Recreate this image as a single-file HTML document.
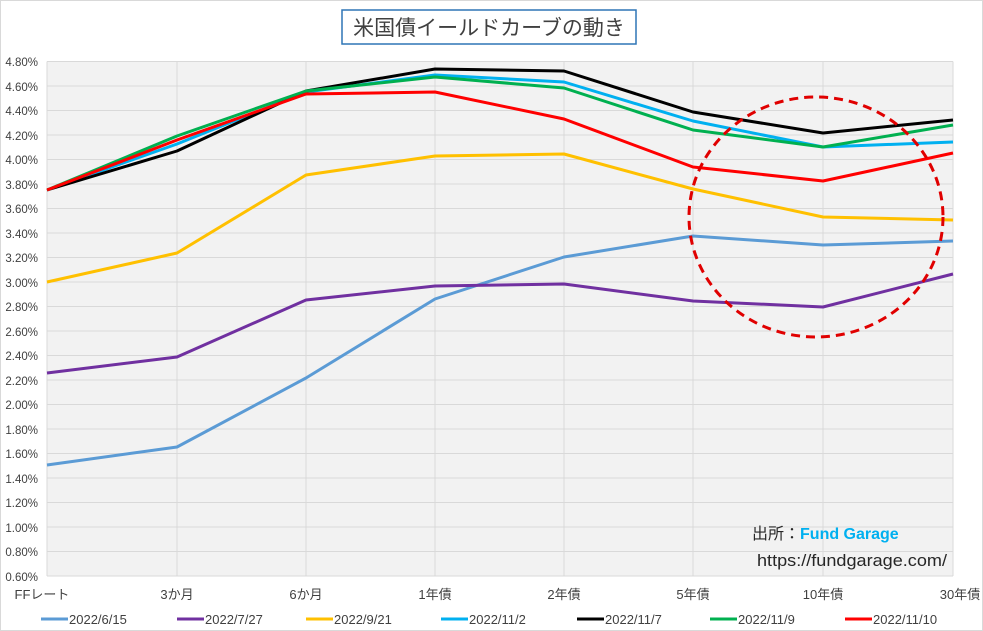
<!DOCTYPE html>
<html><head><meta charset="utf-8"><style>
html,body{margin:0;padding:0;background:#fff;}
svg{display:block;font-family:"Liberation Sans","Noto Sans CJK JP",sans-serif;}
</style></head><body>
<svg width="983" height="631" viewBox="0 0 983 631" xmlns="http://www.w3.org/2000/svg">
<rect x="0.5" y="0.5" width="982" height="630" fill="#fff" stroke="#d9d9d9"/>
<rect x="342" y="10" width="294" height="34" fill="#fff" stroke="#2e75b6" stroke-width="1.5"/>
<text x="489" y="35" font-size="21" fill="#404040" text-anchor="middle">米国債イールドカーブの動き</text>
<rect x="47" y="61.5" width="906" height="514.5" fill="#f2f2f2"/>
<g stroke="#d9d9d9" stroke-width="1">
<line x1="47" x2="953" y1="61.5" y2="61.5"/><line x1="47" x2="953" y1="86" y2="86"/><line x1="47" x2="953" y1="110.5" y2="110.5"/><line x1="47" x2="953" y1="135" y2="135"/><line x1="47" x2="953" y1="159.5" y2="159.5"/><line x1="47" x2="953" y1="184" y2="184"/><line x1="47" x2="953" y1="208.5" y2="208.5"/><line x1="47" x2="953" y1="233" y2="233"/><line x1="47" x2="953" y1="257.5" y2="257.5"/><line x1="47" x2="953" y1="282" y2="282"/><line x1="47" x2="953" y1="306.5" y2="306.5"/><line x1="47" x2="953" y1="331" y2="331"/><line x1="47" x2="953" y1="355.5" y2="355.5"/><line x1="47" x2="953" y1="380" y2="380"/><line x1="47" x2="953" y1="404.5" y2="404.5"/><line x1="47" x2="953" y1="429" y2="429"/><line x1="47" x2="953" y1="453.5" y2="453.5"/><line x1="47" x2="953" y1="478" y2="478"/><line x1="47" x2="953" y1="502.5" y2="502.5"/><line x1="47" x2="953" y1="527" y2="527"/><line x1="47" x2="953" y1="551.5" y2="551.5"/><line x1="47" x2="953" y1="576" y2="576"/>
<line x1="47" x2="47" y1="61.5" y2="576"/><line x1="177" x2="177" y1="61.5" y2="576"/><line x1="306" x2="306" y1="61.5" y2="576"/><line x1="435" x2="435" y1="61.5" y2="576"/><line x1="564" x2="564" y1="61.5" y2="576"/><line x1="693" x2="693" y1="61.5" y2="576"/><line x1="823" x2="823" y1="61.5" y2="576"/><line x1="953" x2="953" y1="61.5" y2="576"/>
</g>
<g font-size="11.5" fill="#404040" text-anchor="end">
<text x="38" y="66">4.80%</text><text x="38" y="91">4.60%</text><text x="38" y="115">4.40%</text><text x="38" y="140">4.20%</text><text x="38" y="164">4.00%</text><text x="38" y="189">3.80%</text><text x="38" y="213">3.60%</text><text x="38" y="238">3.40%</text><text x="38" y="262">3.20%</text><text x="38" y="287">3.00%</text><text x="38" y="311">2.80%</text><text x="38" y="336">2.60%</text><text x="38" y="360">2.40%</text><text x="38" y="385">2.20%</text><text x="38" y="409">2.00%</text><text x="38" y="434">1.80%</text><text x="38" y="458">1.60%</text><text x="38" y="483">1.40%</text><text x="38" y="507">1.20%</text><text x="38" y="532">1.00%</text><text x="38" y="556">0.80%</text><text x="38" y="581">0.60%</text>
</g>
<g font-size="13" fill="#404040" text-anchor="middle">
<text x="42" y="599">FFレート</text><text x="177" y="599">3か月</text><text x="306" y="599">6か月</text><text x="435" y="599">1年債</text><text x="564" y="599">2年債</text><text x="693" y="599">5年債</text><text x="823" y="599">10年債</text><text x="960" y="599">30年債</text>
</g>
<g fill="none" stroke-width="3" stroke-linejoin="round">
<polyline stroke="#5b9bd5" points="47,465 177,447 306,378 435,299 564,257 693,236 823,245 953,241"/>
<polyline stroke="#7030a0" points="47,373 177,357 306,300 435,286 564,284 693,301 823,307 953,274"/>
<polyline stroke="#ffc000" points="47,282 177,253 306,175 435,156 564,154 693,189 823,217 953,220"/>
<polyline stroke="#00b0f0" points="47,190 177,144 306,92 435,75 564,82 693,121 823,147 953,142"/>
<polyline stroke="#000000" points="47,190 177,151 306,91 435,69 564,71 693,112 823,133 953,120"/>
<polyline stroke="#00b050" points="47,190 177,136 306,91 435,77 564,88 693,130 823,147 953,125"/>
<polyline stroke="#ff0000" points="47,190 177,140 306,94 435,92 564,119 693,167 823,181 953,153"/>
</g>
<ellipse cx="816" cy="217" rx="127" ry="120" fill="none" stroke="#e00000" stroke-width="3" stroke-dasharray="9,6"/>
<text x="752" y="539" font-size="16" fill="#262626">出所：<tspan fill="#00b0f0" font-weight="bold">Fund Garage</tspan></text>
<text x="757" y="566" font-size="17" fill="#262626" textLength="190" lengthAdjust="spacingAndGlyphs">https://fundgarage.com/</text>
<g font-size="13" fill="#404040">
<line x1="41" x2="68" y1="619" y2="619" stroke="#5b9bd5" stroke-width="3"/><text x="69" y="624">2022/6/15</text>
<line x1="177" x2="204" y1="619" y2="619" stroke="#7030a0" stroke-width="3"/><text x="205" y="624">2022/7/27</text>
<line x1="306" x2="333" y1="619" y2="619" stroke="#ffc000" stroke-width="3"/><text x="334" y="624">2022/9/21</text>
<line x1="441" x2="468" y1="619" y2="619" stroke="#00b0f0" stroke-width="3"/><text x="469" y="624">2022/11/2</text>
<line x1="577" x2="604" y1="619" y2="619" stroke="#000" stroke-width="3"/><text x="605" y="624">2022/11/7</text>
<line x1="710" x2="737" y1="619" y2="619" stroke="#00b050" stroke-width="3"/><text x="738" y="624">2022/11/9</text>
<line x1="845" x2="872" y1="619" y2="619" stroke="#ff0000" stroke-width="3"/><text x="873" y="624">2022/11/10</text>
</g>
</svg>
</body></html>
